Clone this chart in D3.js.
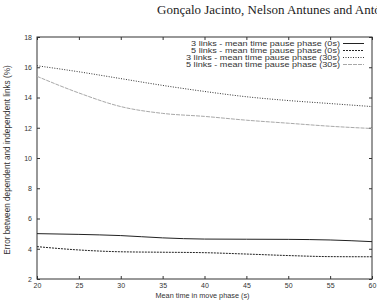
<!DOCTYPE html>
<html>
<head>
<meta charset="utf-8">
<script src="https://cdn.jsdelivr.net/npm/d3@7"></script>
<style>
	body { margin: 0; background: #fff; overflow: hidden; }
	svg { display: block; }
</style>
</head>
<body>
<svg id="chart" width="377" height="301"></svg>
<script>
// Data
var moveTimes = [20, 25, 30, 35, 40, 45, 50, 55, 60];
var links3pause0 = [5.0, 4.95, 4.87, 4.72, 4.64, 4.63, 4.62, 4.58, 4.47];
var links5pause0 = [4.14, 3.92, 3.8, 3.77, 3.74, 3.65, 3.55, 3.48, 3.47];
var links3pause30 = [16.1, 15.7, 15.25, 14.8, 14.4, 14.05, 13.8, 13.6, 13.4];
var links5pause30 = [15.4, 14.3, 13.4, 12.95, 12.75, 12.5, 12.3, 12.1, 11.95];
var seriesNames = [
	'3 links - mean time pause phase (0s)',
	'5 links - mean time pause phase (0s)',
	'3 links - mean time pause phase (30s)',
	'5 links - mean time pause phase (30s)'
];
var xTicks = [20, 25, 30, 35, 40, 45, 50, 55, 60];
var yTicks = [2, 4, 6, 8, 10, 12, 14, 16, 18];

(function () {
	'use strict';
	var svg = d3.select('#chart'),
		left = 37, right = 372, top = 37, bottom = 279,
		x, y, line, series, legend;

	x = d3.scaleLinear().domain([20, 60]).range([left, right]);
	y = d3.scaleLinear().domain([2, 18]).range([bottom, top]);

	// running header of the page (cut by the right edge, as in the scan)
	svg.append('text')
		.attr('x', 157)
		.attr('y', 14)
		.attr('font-family', 'Liberation Serif')
		.attr('font-size', 13)
		.attr('fill', '#222')
		.text('Gonçalo Jacinto, Nelson Antunes and António');

	// axes, ticks inward on all four sides
	svg.append('g')
		.attr('transform', 'translate(0,' + bottom + ')')
		.call(d3.axisBottom(x).tickValues(xTicks).tickSize(-3).tickPadding(4));
	svg.append('g')
		.attr('transform', 'translate(0,' + top + ')')
		.call(d3.axisTop(x).tickValues(xTicks).tickSize(-3).tickFormat(''));
	svg.append('g')
		.attr('transform', 'translate(' + left + ',0)')
		.call(d3.axisLeft(y).tickValues(yTicks).tickSize(-3).tickPadding(5));
	svg.append('g')
		.attr('transform', 'translate(' + right + ',0)')
		.call(d3.axisRight(y).tickValues(yTicks).tickSize(-3).tickFormat(''));

	svg.selectAll('.domain').attr('stroke', 'none');
	svg.selectAll('.tick line').attr('stroke', '#333');
	svg.selectAll('.tick text')
		.attr('font-family', 'Liberation Sans')
		.attr('font-size', 7)
		.attr('fill', '#333');

	svg.append('rect')
		.attr('x', left)
		.attr('y', top)
		.attr('width', right - left)
		.attr('height', bottom - top)
		.attr('fill', 'none')
		.attr('stroke', '#333')
		.attr('stroke-width', 1);

	// axis titles
	svg.append('text')
		.attr('x', (left + right) / 2 - 2)
		.attr('y', 298)
		.attr('text-anchor', 'middle')
		.attr('font-family', 'Liberation Sans')
		.attr('font-size', 7.3)
		.attr('fill', '#333')
		.text('Mean time in move phase (s)');
	svg.append('text')
		.attr('transform', 'translate(10,' + 160 + ') rotate(-90)')
		.attr('text-anchor', 'middle')
		.attr('font-family', 'Liberation Sans')
		.attr('font-size', 8.2)
		.attr('fill', '#333')
		.text('Error between dependent and independent links (%)');

	series = [
		{ values: links3pause0, color: '#222', dash: null },
		{ values: links5pause0, color: '#222', dash: '2,1' },
		{ values: links3pause30, color: '#333', dash: '1,1.5' },
		{ values: links5pause30, color: '#a8a8a8', dash: '4,1' }
	];

	line = d3.line()
		.curve(d3.curveMonotoneX)
		.x(function (d, i) { return x(moveTimes[i]); })
		.y(function (d) { return y(d); });

	svg.selectAll('path.series')
		.data(series)
		.enter().append('path')
		.attr('class', 'series')
		.attr('d', function (d) { return line(d.values); })
		.attr('fill', 'none')
		.attr('stroke', function (d) { return d.color; })
		.attr('stroke-width', 1)
		.attr('stroke-dasharray', function (d) { return d.dash; });

	// legend, text is wide and tightly stacked in the reference
	legend = svg.selectAll('g.legend')
		.data(series)
		.enter().append('g')
		.attr('class', 'legend')
		.attr('transform', function (d, i) { return 'translate(0,' + (43.5 + i * 7) + ')'; });
	legend.append('text')
		.attr('transform', 'translate(340,2.2) scale(1.4,1)')
		.attr('text-anchor', 'end')
		.attr('font-family', 'Liberation Sans')
		.attr('font-size', 6.5)
		.attr('fill', '#333')
		.text(function (d, i) { return seriesNames[i]; });
	legend.append('line')
		.attr('x1', 343)
		.attr('x2', 364)
		.attr('stroke', function (d) { return d.color; })
		.attr('stroke-width', 1)
		.attr('stroke-dasharray', function (d) { return d.dash; });
}());
</script>
</body>
</html>
